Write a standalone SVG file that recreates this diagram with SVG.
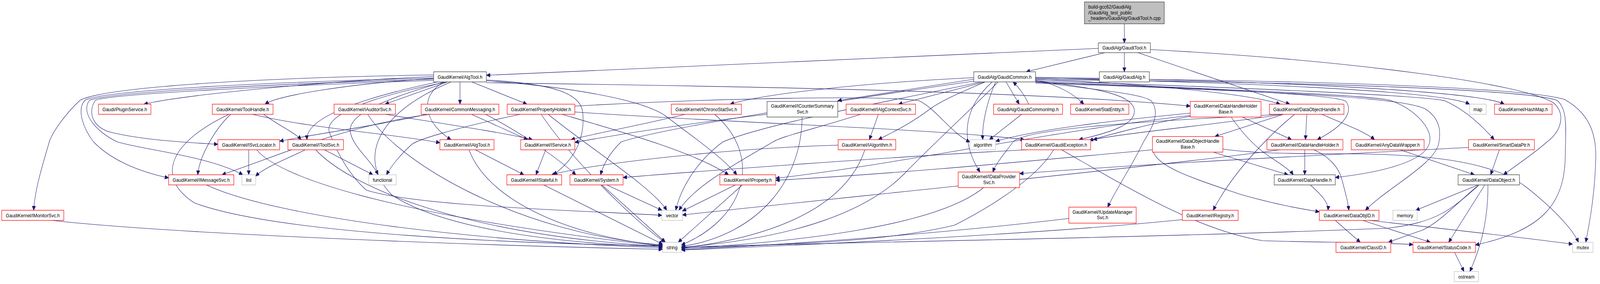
<svg xmlns="http://www.w3.org/2000/svg" width="4612" height="728" viewBox="0 0 4612 728">
<defs>
<style>
rect{stroke-width:1.3}
.r{fill:#fff;stroke:#ff0000}
.k{fill:#fff;stroke:#404040}
.g{fill:#fff;stroke:#bfbfbf}
.top{fill:#bfbfbf;stroke:#404040}
text{font-family:"Liberation Sans",Arial,Helvetica,sans-serif;font-size:13px;fill:#000;text-anchor:middle}
text.l{text-anchor:start}
#edges path{fill:none;stroke:#191970;stroke-width:1.1;marker-end:url(#a)}
</style>
<marker id="a" markerUnits="userSpaceOnUse" markerWidth="12" markerHeight="10" refX="11" refY="5" orient="auto">
<path d="M0,0 L11,5 L0,10 Z" fill="#191970" stroke="#191970"/>
</marker>
</defs>
<rect width="4612" height="728" fill="#fff"/>
<g id="diagram" transform="scale(0.8881,1)">
<g id="edges">
<path d="M3241,61 L3241,110"/>
<path d="M3241,135 L3241,184"/>
<path d="M3166,124 L1402,193"/>
<path d="M3185,135 L2958,184"/>
<path d="M3280,135 L3718,267"/>
<path d="M3316,127 C3900,155 4400,215 4480,265 C4520,300 4490,345 4459,364 C4420,395 4360,430 4334,448"/>
<path d="M1250,196 C900,210 520,245 415,267"/>
<path d="M1250,201 C1000,215 800,245 764,267"/>
<path d="M1290,210 L1110,267"/>
<path d="M1326,210 L1326,267"/>
<path d="M1360,210 L1519,267"/>
<path d="M1250,192 C700,200 300,225 231,257 C190,290 150,340 142,364 C120,430 100,490 97,539"/>
<path d="M1250,200 C800,210 300,230 245,257 C220,280 240,330 270,364 C320,410 400,440 486,456"/>
<path d="M1250,203 C800,215 320,235 258,257 C230,290 280,340 339,364 C420,385 600,400 700,448"/>
<path d="M1250,206 C800,220 320,240 275,257 C250,290 270,330 324,340 C420,360 540,365 628,370"/>
<path d="M1262,210 C1050,250 880,300 885,358"/>
<path d="M1280,210 C1200,250 1230,320 1300,358"/>
<path d="M1402,205 C1600,215 1675,240 1680,290 C1685,340 1670,400 1595,448"/>
<path d="M1402,207 C1600,220 1850,250 1923,300 C1980,340 2080,400 2124,448"/>
<path d="M1402,212 C2200,222 3000,235 3431,272"/>
<path d="M1290,210 C1050,250 930,300 950,340 C975,400 1010,450 1055,487 C1200,530 1700,540 1908,552"/>
<path d="M1300,210 C1060,300 1040,420 1130,500 C1300,600 1700,628 1910,632"/>
<path d="M1280,210 C1080,260 1000,300 1010,340 C1020,380 1070,410 1090,448"/>
<path d="M727,293 C900,330 1150,345 1268,366"/>
<path d="M760,293 C800,320 850,340 868,358"/>
<path d="M665,293 C620,330 575,400 570,448"/>
<path d="M660,293 C500,360 440,450 560,520 C800,600 1500,625 1910,630"/>
<path d="M1110,293 C1300,320 1450,340 1535,358"/>
<path d="M1060,293 C1150,420 1500,600 1910,628"/>
<path d="M1359,293 L1521,358"/>
<path d="M1230,293 C1100,320 900,345 806,362"/>
<path d="M1240,293 C1000,320 800,400 640,448"/>
<path d="M1400,293 C1500,340 1600,400 1660,448"/>
<path d="M1620,293 C1800,340 2000,390 2100,448"/>
<path d="M1657,287 C2100,315 2700,330 2953,358"/>
<path d="M1580,293 C1700,380 1880,480 1922,539"/>
<path d="M1560,293 C1640,400 1820,560 1916,621"/>
<path d="M1500,293 C1300,330 1200,360 1187,370 C1150,400 1125,430 1114,448"/>
<path d="M1657,272 C2100,250 2550,245 2649,258 C2700,280 2740,340 2796,364"/>
<path d="M1975,293 C1850,320 1700,345 1646,358"/>
<path d="M2060,293 C2200,400 2150,560 1964,628"/>
<path d="M2211,293 C1950,320 1750,350 1657,365"/>
<path d="M2312,300 C2312,450 2200,600 1964,632"/>
<path d="M2532,293 L2506,358"/>
<path d="M2481,293 C2350,330 2250,350 2228,364 C2100,430 2000,480 1957,539"/>
<path d="M2965,267 C2955,245 2935,222 2920,210"/>
<path d="M2945,293 L2852,358"/>
<path d="M2900,210 L2938,267"/>
<path d="M2840,210 L2590,267"/>
<path d="M2807,203 L2415,258"/>
<path d="M2807,199 C2500,212 2200,240 2105,267"/>
<path d="M2985,206 C3050,215 3100,245 3124,267"/>
<path d="M2985,203 C3300,215 3600,240 3690,267"/>
<path d="M2985,200 C3500,210 4150,230 4236,267"/>
<path d="M2985,198 C3500,204 4250,228 4336,267"/>
<path d="M2870,210 C2845,260 2830,320 2833,358"/>
<path d="M2840,210 C2760,240 2710,260 2680,280 C2620,320 2570,340 2532,358"/>
<path d="M2985,207 C3150,225 3265,240 3270,283 C3272,320 3200,340 3110,358"/>
<path d="M2860,210 C2760,290 2780,380 2825,441"/>
<path d="M2877,210 C2800,280 2700,360 2605,447 C2500,540 2300,610 1964,634"/>
<path d="M2830,210 C2500,270 2200,320 2083,364 C2000,420 1960,490 1948,539"/>
<path d="M2807,208 C2400,260 1900,330 1790,364 C1760,390 1740,420 1731,448"/>
<path d="M2985,201 C3800,205 4400,225 4510,255 C4580,290 4600,340 4600,400 C4598,500 4580,580 4571,621"/>
<path d="M2985,204 C3800,210 4400,230 4488,257 C4520,280 4513,330 4512,400 C4510,520 4450,590 4253,628"/>
<path d="M2985,207 C3600,225 4100,245 4164,258 C4220,280 4270,320 4307,358"/>
<path d="M2985,210 C3600,230 3950,245 4007,257 C4080,280 4130,330 4121,364 C4110,420 3950,445 3849,455"/>
<path d="M2985,213 C3700,235 4050,250 4110,280 C4160,310 4150,350 4148,364 C4140,420 4000,480 3936,539"/>
<path d="M2985,211 C3600,230 3860,245 3880,260 C3900,285 3880,320 3797,358"/>
<path d="M2985,209 C3150,230 3300,240 3320,260 C3345,290 3320,330 3296,364 C3260,430 3220,480 3193,531"/>
<path d="M3732,293 C3680,330 3560,430 3497,539"/>
<path d="M3581,300 L3723,358"/>
<path d="M3549,300 C3580,340 3620,380 3669,407 C3700,425 3720,438 3728,448"/>
<path d="M3431,290 C3200,310 3000,330 2870,362"/>
<path d="M3431,298 C3300,320 3200,345 3140,360"/>
<path d="M3431,296 C3000,340 2600,420 2236,457"/>
<path d="M3700,293 L3502,350"/>
<path d="M3767,293 L3763,358"/>
<path d="M3810,293 C3880,320 3940,340 3962,358"/>
<path d="M3699,293 C3500,320 3250,340 3151,358"/>
<path d="M3699,293 C3300,310 2950,330 2920,364 C2890,400 2870,420 2862,441"/>
<path d="M3497,390 L3713,448"/>
<path d="M3325,390 C3340,430 3450,460 3571,497 C3680,525 3750,535 3803,543"/>
<path d="M3322,384 C3000,410 2600,445 2236,462"/>
<path d="M3525,382 C3600,392 3700,394 3850,394 C4100,394 4300,410 4400,480 C4500,550 4540,600 4550,621"/>
<path d="M3761,384 L3761,448"/>
<path d="M3787,384 C3830,400 3860,430 3868,460 C3880,500 3886,520 3888,539"/>
<path d="M3689,384 C3400,420 2500,500 1967,551"/>
<path d="M4036,384 L4250,448"/>
<path d="M4322,384 L4297,448"/>
<path d="M4233,378 C3800,398 3300,420 2939,445"/>
<path d="M3777,474 C3810,500 3830,520 3828,539"/>
<path d="M4263,474 C4200,520 4150,570 4100,590 C4050,605 4020,615 4002,621"/>
<path d="M4280,474 L4176,621"/>
<path d="M4289,474 C4290,580 4260,650 4237,696"/>
<path d="M4261,474 L4081,539"/>
<path d="M4261,476 C4180,540 4140,570 4000,585 C3300,610 2500,620 1964,633"/>
<path d="M3849,565 L3921,621"/>
<path d="M3928,565 L4123,621"/>
<path d="M3948,565 C4200,590 4400,610 4533,626"/>
<path d="M3060,384 C3250,480 3450,590 3640,617 C3800,622 3950,620 4073,627"/>
<path d="M2960,384 C2600,400 2000,440 1796,455"/>
<path d="M3037,384 C3000,440 2900,510 2752,577 C2600,610 2400,625 1964,636"/>
<path d="M4193,647 L4220,696"/>
<path d="M1749,474 L1908,539"/>
<path d="M1735,474 L1918,621"/>
<path d="M2120,474 L1967,541"/>
<path d="M2140,474 L1955,621"/>
<path d="M1567,474 L1910,626"/>
<path d="M1573,384 L1545,448"/>
<path d="M1370,384 L1510,448"/>
<path d="M1352,384 C1400,500 1600,600 1910,630"/>
<path d="M2416,372 C2100,380 1700,420 1590,448"/>
<path d="M2493,384 C2450,500 2300,600 1964,636"/>
<path d="M935,384 L1075,448"/>
<path d="M880,384 C820,410 760,430 737,452"/>
<path d="M910,384 C1000,470 1300,600 1910,632"/>
<path d="M717,384 L717,448"/>
<path d="M740,384 C800,450 1100,550 1910,631"/>
<path d="M595,474 C800,560 1400,620 1910,635"/>
<path d="M150,565 C500,600 1400,630 1910,639"/>
<path d="M2835,481 C2700,580 2300,620 1964,637"/>
<path d="M3081,560 C2700,600 2300,625 1964,640"/>
<path d="M3408,563 C3000,600 2400,625 1964,641"/>
</g>
<g id="n_top"><rect class="top" x="3126" y="5" width="230" height="56"/><text class="l" x="3137" y="22">build-gcc62/GaudiAlg</text><text class="l" x="3137" y="37">/GaudiAlg_test_public</text><text class="l" x="3137" y="51.5">_headers/GaudiAlg/GaudiTool.h.cpp</text></g>
<g id="n_GaudiTool"><rect class="k" x="3166" y="110" width="150" height="25"/><text x="3241" y="127.5">GaudiAlg/GaudiTool.h</text></g>
<g id="n_AlgTool"><rect class="k" x="1250" y="184" width="152" height="26"/><text x="1326" y="202">GaudiKernel/AlgTool.h</text></g>
<g id="n_GaudiCommon"><rect class="k" x="2807" y="184" width="178" height="26"/><text x="2896" y="202">GaudiAlg/GaudiCommon.h</text></g>
<g id="n_GaudiAlg"><rect class="k" x="3169" y="184" width="144" height="26"/><text x="3241" y="202">GaudiAlg/GaudiAlg.h</text></g>
<g id="n_PluginService"><rect class="r" x="284" y="267" width="151" height="26"/><text x="359.5" y="285">Gaudi/PluginService.h</text></g>
<g id="n_ToolHandle"><rect class="r" x="612" y="267" width="175" height="26"/><text x="699.5" y="285">GaudiKernel/ToolHandle.h</text></g>
<g id="n_IAuditorSvc"><rect class="r" x="963" y="267" width="177" height="26"/><text x="1051.5" y="285">GaudiKernel/IAuditorSvc.h</text></g>
<g id="n_CommonMessaging"><rect class="r" x="1214" y="267" width="224" height="26"/><text x="1326" y="285">GaudiKernel/CommonMessaging.h</text></g>
<g id="n_PropertyHolder"><rect class="r" x="1462" y="267" width="195" height="26"/><text x="1559.5" y="285">GaudiKernel/PropertyHolder.h</text></g>
<g id="n_IChronoStatSvc"><rect class="r" x="1935" y="267" width="202" height="26"/><text x="2036" y="285">GaudiKernel/IChronoStatSvc.h</text></g>
<g id="n_ICounterSummarySvc"><rect class="k" x="2211" y="260" width="204" height="40"/><text x="2313" y="276.5">GaudiKernel/ICounterSummary</text><text x="2313" y="291">Svc.h</text></g>
<g id="n_IAlgContextSvc"><rect class="r" x="2439" y="267" width="200" height="26"/><text x="2539" y="285">GaudiKernel/IAlgContextSvc.h</text></g>
<g id="n_GaudiCommonImp"><rect class="r" x="2864" y="267" width="199" height="26"/><text x="2963.5" y="285">GaudiAlg/GaudiCommonImp.h</text></g>
<g id="n_StatEntity"><rect class="r" x="3086" y="267" width="168" height="26"/><text x="3170" y="285">GaudiKernel/StatEntity.h</text></g>
<g id="n_DataHandleHolderBase"><rect class="r" x="3431" y="260" width="204" height="40"/><text x="3533" y="276.5">GaudiKernel/DataHandleHolder</text><text x="3533" y="291">Base.h</text></g>
<g id="n_DataObjectHandle"><rect class="r" x="3659" y="267" width="215" height="26"/><text x="3766.5" y="285">GaudiKernel/DataObjectHandle.h</text></g>
<g id="n_map"><rect class="g" x="4236" y="267" width="48" height="26"/><text x="4260" y="285">map</text></g>
<g id="n_HashMap"><rect class="r" x="4308" y="267" width="166" height="26"/><text x="4391" y="285">GaudiKernel/HashMap.h</text></g>
<g id="n_ISvcLocator"><rect class="r" x="628" y="358" width="178" height="26"/><text x="717" y="376">GaudiKernel/ISvcLocator.h</text></g>
<g id="n_IToolSvc"><rect class="r" x="830" y="358" width="160" height="26"/><text x="910" y="376">GaudiKernel/IToolSvc.h</text></g>
<g id="n_IAlgTool"><rect class="r" x="1268" y="358" width="156" height="26"/><text x="1346" y="376">GaudiKernel/IAlgTool.h</text></g>
<g id="n_IService"><rect class="r" x="1501" y="358" width="156" height="26"/><text x="1579" y="376">GaudiKernel/IService.h</text></g>
<g id="n_IAlgorithm"><rect class="r" x="2416" y="358" width="166" height="26"/><text x="2499" y="376">GaudiKernel/IAlgorithm.h</text></g>
<g id="n_algorithm"><rect class="g" x="2796" y="358" width="74" height="26"/><text x="2833" y="376">algorithm</text></g>
<g id="n_GaudiException"><rect class="r" x="2945" y="358" width="199" height="26"/><text x="3044.5" y="376">GaudiKernel/GaudiException.h</text></g>
<g id="n_DataObjectHandleBase"><rect class="r" x="3322" y="350" width="203" height="40"/><text x="3423.5" y="366.5">GaudiKernel/DataObjectHandle</text><text x="3423.5" y="381">Base.h</text></g>
<g id="n_IDataHandleHolder"><rect class="r" x="3652" y="358" width="219" height="26"/><text x="3761.5" y="376">GaudiKernel/IDataHandleHolder.h</text></g>
<g id="n_AnyDataWrapper"><rect class="r" x="3895" y="358" width="210" height="26"/><text x="4000" y="376">GaudiKernel/AnyDataWrapper.h</text></g>
<g id="n_SmartDataPtr"><rect class="r" x="4233" y="358" width="190" height="26"/><text x="4328" y="376">GaudiKernel/SmartDataPtr.h</text></g>
<g id="n_IMessageSvc"><rect class="r" x="486" y="448" width="188" height="26"/><text x="580" y="466">GaudiKernel/IMessageSvc.h</text></g>
<g id="n_list"><rect class="g" x="697" y="448" width="40" height="26"/><text x="717" y="466">list</text></g>
<g id="n_functional"><rect class="g" x="1063" y="448" width="79" height="26"/><text x="1102.5" y="466">functional</text></g>
<g id="n_IStateful"><rect class="r" x="1461" y="448" width="158" height="26"/><text x="1540" y="466">GaudiKernel/IStateful.h</text></g>
<g id="n_System"><rect class="r" x="1643" y="448" width="153" height="26"/><text x="1719.5" y="466">GaudiKernel/System.h</text></g>
<g id="n_IProperty"><rect class="r" x="2075" y="448" width="161" height="26"/><text x="2155.5" y="466">GaudiKernel/IProperty.h</text></g>
<g id="n_IDataProviderSvc"><rect class="r" x="2762" y="441" width="177" height="40"/><text x="2850.5" y="457.5">GaudiKernel/IDataProvider</text><text x="2850.5" y="472">Svc.h</text></g>
<g id="n_DataHandle"><rect class="k" x="3673" y="448" width="176" height="26"/><text x="3761" y="466">GaudiKernel/DataHandle.h</text></g>
<g id="n_DataObject"><rect class="k" x="4203" y="448" width="177" height="26"/><text x="4291.5" y="466">GaudiKernel/DataObject.h</text></g>
<g id="n_IMonitorSvc"><rect class="r" x="5" y="539" width="179" height="26"/><text x="94.5" y="557">GaudiKernel/IMonitorSvc.h</text></g>
<g id="n_vector"><rect class="g" x="1908" y="539" width="59" height="26"/><text x="1937.5" y="557">vector</text></g>
<g id="n_IUpdateManagerSvc"><rect class="r" x="3081" y="531" width="194" height="41"/><text x="3178" y="548">GaudiKernel/IUpdateManager</text><text x="3178" y="562.5">Svc.h</text></g>
<g id="n_IRegistry"><rect class="r" x="3408" y="539" width="161" height="26"/><text x="3488.5" y="557">GaudiKernel/IRegistry.h</text></g>
<g id="n_DataObjID"><rect class="r" x="3803" y="539" width="172" height="26"/><text x="3889" y="557">GaudiKernel/DataObjID.h</text></g>
<g id="n_memory"><rect class="g" x="4015" y="539" width="70" height="26"/><text x="4050" y="557">memory</text></g>
<g id="n_string"><rect class="g" x="1910" y="621" width="54" height="26"/><text x="1937" y="639">string</text></g>
<g id="n_ClassID"><rect class="r" x="3851" y="621" width="158" height="26"/><text x="3930" y="639">GaudiKernel/ClassID.h</text></g>
<g id="n_StatusCode"><rect class="r" x="4073" y="621" width="180" height="26"/><text x="4163" y="639">GaudiKernel/StatusCode.h</text></g>
<g id="n_mutex"><rect class="g" x="4533" y="621" width="59" height="26"/><text x="4562.5" y="639">mutex</text></g>
<g id="n_ostream"><rect class="g" x="4192" y="696" width="70" height="26"/><text x="4227" y="714">ostream</text></g>
</g>
</svg>
